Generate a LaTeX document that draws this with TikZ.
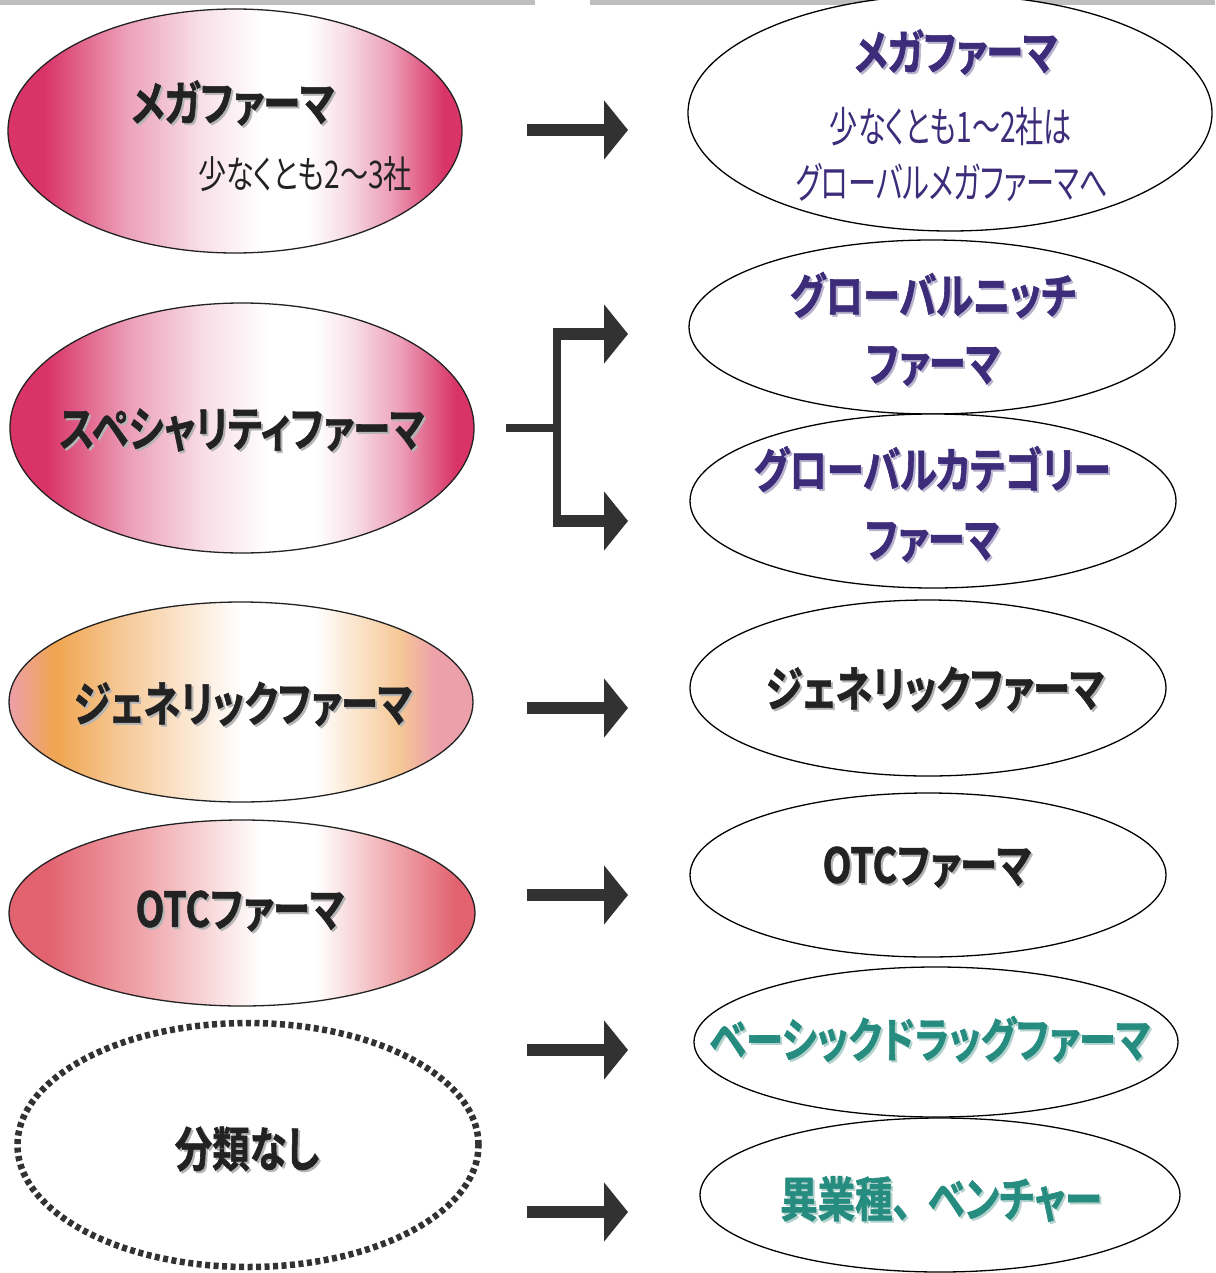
\documentclass[tikz,border=0pt]{standalone}
\usepackage{fontspec}
\usetikzlibrary{shapes.geometric,arrows.meta}
\newfontfamily\jpb[FakeStretch=0.78,FakeBold=1.2,RawFeature=+palt]{Noto Sans CJK JP Bold}
\newfontfamily\jpr[FakeStretch=0.67,RawFeature=+palt]{Noto Sans CJK JP}
\newfontfamily\jprw[FakeStretch=0.74,RawFeature=+palt]{Noto Sans CJK JP}
\definecolor{pk}{RGB}{217,52,104}
\definecolor{pkl}{RGB}{236,160,185}
\definecolor{pkw}{RGB}{248,222,230}
\definecolor{sal}{RGB}{226,98,112}
\definecolor{sall}{RGB}{240,170,175}
\definecolor{org}{RGB}{240,165,80}
\definecolor{orgl}{RGB}{246,200,150}
\definecolor{opk}{RGB}{236,160,170}
\definecolor{pur}{RGB}{60,44,122}
\definecolor{purs}{RGB}{185,180,205}
\definecolor{tea}{RGB}{38,140,128}
\definecolor{teas}{RGB}{180,210,205}
\definecolor{ink}{RGB}{34,34,34}
\definecolor{inks}{RGB}{180,180,180}
\definecolor{arr}{RGB}{50,50,50}
\definecolor{bar}{RGB}{190,190,190}
\newcommand\shd[2]{\makebox[0pt][l]{\kern2pt\raisebox{-2pt}{\textcolor{#1}{#2}}}#2}
\pgfdeclarehorizontalshading{pinkh}{100bp}{color(0bp)=(pk); color(25bp)=(pk); color(29bp)=(pk); color(38bp)=(pkl); color(46bp)=(pkw); color(53bp)=(white); color(58bp)=(white); color(62bp)=(pkw); color(67bp)=(pkl); color(73bp)=(pk); color(100bp)=(pk)}
\pgfdeclarehorizontalshading{orgh}{100bp}{color(0bp)=(opk); color(25bp)=(opk); color(30bp)=(org); color(37bp)=(orgl); color(50bp)=(white); color(58bp)=(white); color(67bp)=(orgl); color(71bp)=(opk); color(100bp)=(opk)}
\pgfdeclarehorizontalshading{salh}{100bp}{color(0bp)=(sal); color(25bp)=(sal); color(29bp)=(sal); color(40bp)=(sall); color(52bp)=(white); color(58bp)=(white); color(66bp)=(sall); color(73bp)=(sal); color(100bp)=(sal)}
\begin{document}
\begin{tikzpicture}[x=1pt,y=-1pt,
  lell/.style={ellipse,draw=ink,line width=1.3pt,inner sep=0pt},
  rell/.style={ellipse,draw=black,line width=1.3pt,fill=white,inner sep=0pt},
  dotell/.style={ellipse,draw=arr,line width=6.5pt,dash pattern=on 5pt off 3.5pt,inner sep=0pt},
  btxt/.style={font=\jpb\fontsize{48}{54}\selectfont,text=ink,inner sep=0pt},
  ptxt/.style={font=\jpb\fontsize{48}{54}\selectfont,text=pur,inner sep=0pt},
  ttxt/.style={font=\jpb\fontsize{48}{54}\selectfont,text=tea,inner sep=0pt},
  rtxt/.style={font=\jprw\fontsize{38}{42}\selectfont,text=ink,inner sep=0pt},
  prtxt/.style={font=\jpr\fontsize{42}{46}\selectfont,text=pur,inner sep=0pt},
  bigarrow/.style={draw=arr,line width=12pt,-{Triangle[width=58pt,length=24pt]}},
  brline/.style={draw=arr,line width=8pt}]
\useasboundingbox (0,0) rectangle (1215,1273);
\fill[white] (0,0) rectangle (1215,1273);
\fill[bar] (0,0) rectangle (535,5);
\fill[bar] (590,0) rectangle (1215,5);
% left ellipses
\node[lell,shading=pinkh,minimum width=454pt,minimum height=244pt] (L1) at (235,131) {};
\node[btxt] (L1t) at (233,104) {\shd{inks}{メガファーマ}};
\node[rtxt] (L1s) at (305,174) {少なくとも2～3社};
\node[lell,shading=pinkh,minimum width=464pt,minimum height=250pt] (L2) at (242,428) {};
\node[btxt] (L2t) at (242,431) {\shd{inks}{スペシャリティファーマ}};
\node[lell,shading=orgh,minimum width=464pt,minimum height=200pt] (L3) at (241,702) {};
\node[btxt] (L3t) at (243,705) {\shd{inks}{ジェネリックファーマ}};
\node[lell,shading=salh,minimum width=466pt,minimum height=186pt] (L4) at (242,913) {};
\node[btxt] (L4t) at (240,912) {\shd{inks}{OTCファーマ}};
\node[dotell,minimum width=461pt,minimum height=244pt] (L5) at (248,1145) {};
\node[btxt] (L5t) at (247,1150) {\shd{inks}{分類なし}};
% right ellipses
\node[rell,minimum width=524pt,minimum height=236pt] (R1) at (950,113) {};
\node[ptxt] (R1t) at (956,53) {\shd{purs}{メガファーマ}};
\node[prtxt] (R1s) at (951,127) {少なくとも1～2社は};
\node[prtxt] (R1u) at (952,183) {グローバルメガファーマへ};
\node[rell,minimum width=486pt,minimum height=174pt] (R2) at (932,327) {};
\node[ptxt] (R2t) at (933,296) {\shd{purs}{グローバルニッチ}};
\node[ptxt] (R2u) at (933,367) {\shd{purs}{ファーマ}};
\node[rell,minimum width=486pt,minimum height=174pt] (R3) at (933,501) {};
\node[ptxt] (R3t) at (932,470) {\shd{purs}{グローバルカテゴリー}};
\node[ptxt] (R3u) at (932,543) {\shd{purs}{ファーマ}};
\node[rell,minimum width=476pt,minimum height=176pt] (R4) at (928,688) {};
\node[btxt] (R4t) at (935,690) {\shd{inks}{ジェネリックファーマ}};
\node[rell,minimum width=476pt,minimum height=164pt] (R5) at (928,875) {};
\node[btxt] (R5t) at (927,868) {\shd{inks}{OTCファーマ}};
\node[rell,minimum width=484pt,minimum height=150pt] (R6) at (936,1042) {};
\node[ttxt] (R6t) at (930,1040) {\shd{teas}{ベーシックドラッグファーマ}};
\node[rell,minimum width=480pt,minimum height=154pt] (R7) at (940,1195) {};
\node[ttxt] (R7t) at (941,1200) {\shd{teas}{異業種、\hspace{0.35em}ベンチャー}};
% arrows
\coordinate (a1s) at (527,130); \coordinate (a1e) at (628,130);
\coordinate (a3s) at (527,708); \coordinate (a3e) at (628,708);
\coordinate (a4s) at (527,895); \coordinate (a4e) at (628,895);
\coordinate (a6s) at (527,1050); \coordinate (a6e) at (628,1050);
\coordinate (a7s) at (527,1212); \coordinate (a7e) at (628,1212);
\draw[bigarrow] (a1s) -- (a1e);
\draw[bigarrow] (a3s) -- (a3e);
\draw[bigarrow] (a4s) -- (a4e);
\draw[bigarrow] (a6s) -- (a6e);
\draw[bigarrow] (a7s) -- (a7e);
% bracket
\coordinate (bs) at (506,428); \coordinate (bm) at (557,428);
\coordinate (bt) at (557,328); \coordinate (bb) at (557,527);
\coordinate (bts) at (553,334); \coordinate (bbs) at (553,521);
\coordinate (bte) at (628,334); \coordinate (bbe) at (628,521);
\draw[brline] (bs) -- (bm);
\draw[brline] (bt) -- (bb);
\draw[bigarrow] (bts) -- (bte);
\draw[bigarrow] (bbs) -- (bbe);
\end{tikzpicture}
\end{document}
